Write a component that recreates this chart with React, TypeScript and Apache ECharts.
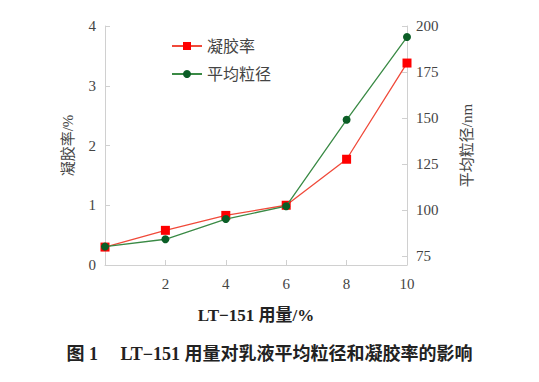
import React, { useEffect, useRef } from "react";
import * as echarts from "echarts";

const dosage = [0, 2, 4, 6, 8, 10];
const gelRate = [0.3, 0.58, 0.83, 1.0, 1.77, 3.38];
const particleSize = [80, 84, 95, 102, 149, 194];
const xTicks = ["", "2", "4", "6", "8", "10"];
const rightTicks = [75, 100, 125, 150, 175, 200];

const serif = "'Liberation Serif', 'Noto Sans CJK SC', serif";

export default function App() {
  const ref = useRef<HTMLDivElement>(null);
  useEffect(() => {
    const chart = echarts.init(ref.current!, null, { renderer: "svg" });
    chart.setOption({
      animation: false,
      backgroundColor: "#fff",
      textStyle: { fontFamily: serif, color: "#333" },
      title: {
        text: "图 1　 LT−151 用量对乳液平均粒径和凝胶率的影响",
        left: "center",
        top: 340,
        textStyle: { fontFamily: serif, fontSize: 18, fontWeight: "bold", color: "#222" },
      },
      legend: {
        orient: "vertical",
        left: 166,
        top: 33,
        itemGap: 12,
        itemWidth: 30,
        itemHeight: 10,
        textStyle: { fontFamily: serif, fontSize: 16, color: "#444" },
        data: ["凝胶率", "平均粒径"],
      },
      grid: { left: 105, right: 132, top: 26, bottom: 117 },
      xAxis: {
        type: "value",
        min: 0,
        max: 10,
        interval: 2,
        name: "LT−151 用量/%",
        nameLocation: "middle",
        nameGap: 42,
        nameTextStyle: { fontFamily: serif, fontSize: 17, fontWeight: "bold", color: "#222" },
        axisLine: { lineStyle: { color: "#d0d0d0" } },
        axisTick: { inside: true, length: 5, lineStyle: { color: "#d0d0d0" } },
        axisLabel: {
          margin: 11,
          fontFamily: serif,
          fontSize: 15,
          color: "#444",
          formatter: (v: number) => xTicks[dosage.indexOf(v)] ?? String(v),
        },
        splitLine: { show: false },
      },
      yAxis: [
        {
          type: "value",
          min: 0,
          max: 4,
          interval: 1,
          position: "left",
          name: "凝胶率/%",
          nameLocation: "middle",
          nameRotate: 90,
          nameGap: 30,
          nameTextStyle: { fontFamily: serif, fontSize: 15, color: "#444" },
          axisLine: { show: true, lineStyle: { color: "#d0d0d0" } },
          axisTick: { show: true, inside: true, length: 5, lineStyle: { color: "#d0d0d0" } },
          axisLabel: { margin: 9, fontFamily: serif, fontSize: 15, color: "#444" },
          splitLine: { show: false },
        },
        {
          type: "value",
          min: 70,
          max: 200,
          position: "right",
          name: "平均粒径/nm",
          nameLocation: "middle",
          nameRotate: 90,
          nameGap: 52,
          nameTextStyle: { fontFamily: serif, fontSize: 15, color: "#444" },
          axisLine: { show: true, lineStyle: { color: "#d0d0d0" } },
          axisTick: {
            show: true,
            inside: true,
            length: 5,
            customValues: rightTicks,
            lineStyle: { color: "#d0d0d0" },
          },
          axisLabel: {
            margin: 9,
            fontFamily: serif,
            fontSize: 15,
            color: "#444",
            customValues: rightTicks,
          },
          splitLine: { show: false },
        },
      ],
      series: [
        {
          name: "凝胶率",
          type: "line",
          yAxisIndex: 0,
          data: dosage.map((x, i) => [x, gelRate[i]]),
          symbol: "rect",
          symbolSize: 9,
          lineStyle: { color: "#f04a3a", width: 1.3 },
          itemStyle: { color: "#ff0000" },
          z: 3,
        },
        {
          name: "平均粒径",
          type: "line",
          yAxisIndex: 1,
          data: dosage.map((x, i) => [x, particleSize[i]]),
          symbol: "circle",
          symbolSize: 8,
          lineStyle: { color: "#3a8a45", width: 1.3 },
          itemStyle: { color: "#0b5e26" },
          z: 4,
        },
      ],
    });
    return () => chart.dispose();
  }, []);
  return <div ref={ref} style={{ width: 539, height: 382, margin: -8 }} />;
}
